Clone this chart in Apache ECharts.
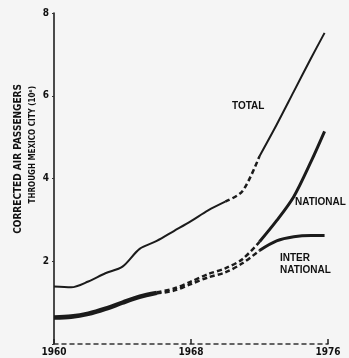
<!DOCTYPE html>
<html>
<head>
<meta charset="utf-8">
<script src="https://cdn.jsdelivr.net/npm/echarts@6/dist/echarts.min.js"></script>
<style>
  html, body { margin: 0; padding: 0; background: #f5f5f5; }
  #chart { width: 349px; height: 358px; }
</style>
</head>
<body>
<div id="chart"></div>
<script>
// years (last point is where the curves stop)
const years = [1960, 1961, 1962, 1963, 1964, 1965, 1966, 1967, 1968, 1969, 1970, 1971, 1972, 1973, 1974, 1975, 1975.8]
// passengers, millions
const total = [1.39, 1.37, 1.51, 1.71, 1.87, 2.30, 2.49, 2.73, 2.97, 3.23, 3.44, 3.69, 4.54, 5.30, 6.10, 6.90, 7.52]
const national = [0.66, 0.68, 0.75, 0.87, 1.02, 1.16, 1.25, 1.34, 1.51, 1.69, 1.83, 2.05, 2.47, 2.98, 3.56, 4.40, 5.14]
const international = [0.62, 0.64, 0.71, 0.83, 0.98, 1.12, 1.22, 1.29, 1.45, 1.61, 1.73, 1.95, 2.26, 2.49, 2.59, 2.62, 2.62]
const xTicks = [1960, 1968, 1976]
const yTicks = [2, 4, 6, 8]

const ink = '#1b1b1b'

// solid outside [from, to], dashed inside
function pieces (name, values, from, to, width) {
  const solid = []
  const dashed = []
  years.forEach((y, i) => {
    solid.push([y, (y > from && y < to) ? null : values[i]])
    if (y >= from && y <= to) dashed.push([y, values[i]])
  })
  return [
    {
      name: name,
      type: 'line',
      data: solid,
      smooth: 0.3,
      symbol: 'none',
      connectNulls: false,
      lineStyle: { color: ink, width: width }
    },
    {
      name: name,
      type: 'line',
      data: dashed,
      smooth: 0.3,
      symbol: 'none',
      lineStyle: { color: ink, width: 2.5, type: [5, 3] }
    }
  ]
}

const myChart = echarts.init(document.getElementById('chart'))
const option = {
  backgroundColor: '#f5f5f5',
  animation: false,
  grid: { left: 54, right: 21, top: 13, bottom: 14 },
  xAxis: {
    type: 'value',
    min: xTicks[0],
    max: xTicks[xTicks.length - 1],
    interval: xTicks[1] - xTicks[0],
    axisLine: { lineStyle: { color: '#333', width: 1.5, type: [4, 4] } },
    axisTick: { show: true, inside: true, length: 5, lineStyle: { color: '#222', width: 1.5 } },
    splitLine: { show: false },
    axisLabel: {
      margin: 3,
      color: '#111',
      fontWeight: 'bold',
      fontSize: 10,
      fontFamily: 'DejaVu Sans Condensed',
      formatter: v => String(v)
    }
  },
  yAxis: {
    type: 'value',
    min: 0,
    max: yTicks[yTicks.length - 1],
    interval: yTicks[0],
    axisLine: { show: true, lineStyle: { color: '#111', width: 1.5 } },
    axisTick: { show: true, inside: false, length: 2, lineStyle: { color: '#333' } },
    splitLine: { show: false },
    axisLabel: {
      margin: 5,
      color: '#111',
      fontWeight: 'bold',
      fontSize: 10,
      fontFamily: 'DejaVu Sans Condensed',
      formatter: v => (v === 0 ? '' : String(v))
    }
  },
  graphic: [
    {
      type: 'text', x: 18, y: 84, rotation: Math.PI / 2,
      style: { text: 'CORRECTED AIR PASSENGERS', textAlign: 'right', textVerticalAlign: 'middle',
        font: 'bold 10px "DejaVu Sans Condensed"', fill: '#111' }
    },
    {
      type: 'text', x: 33, y: 86, rotation: Math.PI / 2,
      style: { text: 'THROUGH MEXICO CITY (10⁶)', textAlign: 'right', textVerticalAlign: 'middle',
        font: 'bold 8px "DejaVu Sans Condensed"', fill: '#111' }
    },
    {
      type: 'text', x: 232, y: 106,
      style: { text: 'TOTAL', textVerticalAlign: 'middle', font: 'bold 10px "Liberation Sans"', fill: '#111' }
    },
    {
      type: 'text', x: 295, y: 202,
      style: { text: 'NATIONAL', textVerticalAlign: 'middle', font: 'bold 10px "Liberation Sans"', fill: '#111' }
    },
    {
      type: 'text', x: 280, y: 258,
      style: { text: 'INTER', textVerticalAlign: 'middle', font: 'bold 10px "Liberation Sans"', fill: '#111' }
    },
    {
      type: 'text', x: 280, y: 270,
      style: { text: 'NATIONAL', textVerticalAlign: 'middle', font: 'bold 10px "Liberation Sans"', fill: '#111' }
    }
  ],
  series: [].concat(
    pieces('Total', total, 1970, 1972, 2),
    pieces('National', national, 1966, 1972, 3),
    pieces('International', international, 1966, 1972, 3)
  )
}
myChart.setOption(option)
window.addEventListener('resize', () => {
  myChart.resize()
})
</script>
</body>
</html>
